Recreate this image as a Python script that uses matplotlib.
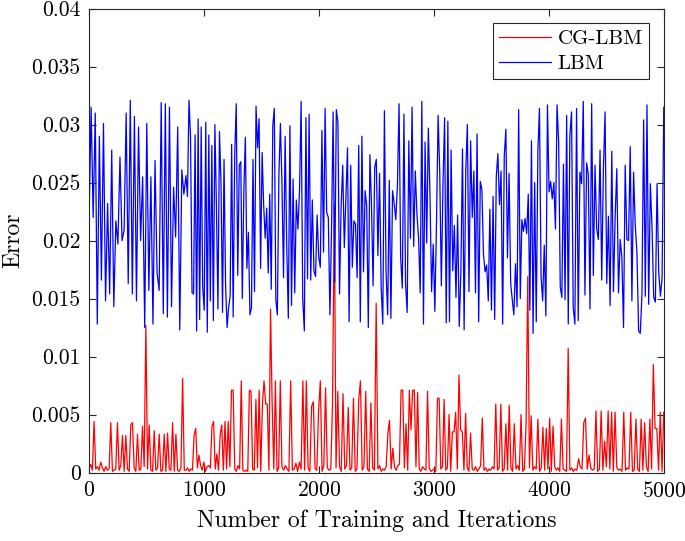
import numpy as np
import matplotlib
matplotlib.use("Agg")
from matplotlib import pyplot as plt
from matplotlib.ticker import FuncFormatter

plt.rcParams['font.family'] = 'cmr10'
plt.rcParams['mathtext.fontset'] = 'cm'
plt.rcParams['axes.formatter.use_mathtext'] = True

# iteration ranges that each block of read-off values covers
seg_edges = [0, 843, 1678, 2513, 3348, 4183, 5000]

# LBM error, in units of 1e-3, read block by block
lbm_1 = [21.6, 31.5, 22.0, 31.0, 12.8, 29.0, 16.6, 30.1, 14.8, 23.2, 15.4, 27.8, 14.3, 21.7, 19.7, 27.2,
         20.0, 20.9, 31.0, 16.3, 32.1, 15.4, 30.7, 14.8, 29.8, 20.0, 25.5, 12.5, 30.1, 15.7, 25.5, 12.8,
         26.9, 17.2, 15.7, 31.9, 13.7, 31.8, 13.4, 31.5, 14.3, 24.6, 20.3, 29.8, 12.3, 26.1, 24.0]
lbm_2 = [25.6, 23.8, 32.1, 29.0, 15.5, 15.4, 29.1, 12.2, 30.5, 13.2, 29.8, 16.0, 14.0, 30.2, 12.1, 29.1,
         14.8, 28.2, 13.1, 30.0, 23.0, 14.1, 29.4, 25.0, 13.8, 27.0, 16.2, 12.5, 14.2, 15.2, 28.3, 13.4,
         27.3, 31.8, 17.0, 26.5, 26.8, 15.0, 24.3, 28.9, 17.6, 20.7, 13.6, 14.2, 27.0, 15.6, 31.6, 28.0,
         30.5, 17.6, 27.6, 23.1, 20.2, 22.8, 17.2, 24.0, 15.8, 29.9, 31.4, 14.9, 13.6, 25.6, 30.1]
lbm_3 = [25.0, 16.8, 29.0, 19.6, 13.3, 29.9, 14.4, 25.3, 15.5, 23.5, 21.0, 24.3, 32.0, 15.0, 12.2, 30.6,
         16.7, 30.9, 16.6, 23.5, 17.4, 16.9, 22.2, 18.6, 17.7, 29.5, 19.0, 31.4, 22.4, 22.0, 13.6, 20.8,
         31.1, 16.4, 31.3, 30.2, 15.4, 22.9, 26.5, 19.4, 23.8, 28.0, 13.0, 26.5, 17.7, 21.7, 21.4, 16.8,
         28.2, 13.0, 29.0, 17.3, 24.3, 23.0, 12.5, 27.4, 23.0, 16.1, 26.3, 27.0]
lbm_4 = [18.7, 25.8, 16.0, 12.8, 31.2, 17.4, 13.6, 25.2, 13.3, 24.3, 23.2, 21.8, 24.8, 31.8, 18.5, 15.9,
         30.9, 16.3, 13.8, 28.6, 20.2, 31.5, 19.5, 26.0, 22.3, 20.2, 15.5, 32.0, 12.8, 28.5, 19.8, 29.7,
         24.0, 15.6, 19.7, 13.9, 21.3, 30.8, 26.0, 16.1, 24.8, 30.6, 12.9, 30.3, 13.0, 27.8, 17.4, 21.3,
         15.1, 22.2, 12.6, 17.2, 27.9, 12.3, 26.0, 30.0, 15.6, 28.6, 22.0]
lbm_5 = [26.0, 15.5, 29.2, 13.0, 25.1, 24.4, 18.8, 17.3, 17.9, 14.8, 22.7, 14.0, 23.8, 13.2, 25.5, 27.5,
         23.1, 26.0, 12.8, 27.3, 29.6, 18.5, 25.8, 16.3, 14.9, 13.6, 18.0, 14.3, 31.3, 15.0, 21.8, 20.8,
         21.9, 20.6, 24.0, 14.0, 28.6, 12.0, 25.0, 13.0, 27.7, 31.4, 16.9, 14.8, 19.6, 13.5, 31.7, 24.2,
         25.1, 23.6, 25.0, 21.0, 31.7, 28.5, 16.0, 15.1, 26.6, 14.9, 30.8, 12.8]
lbm_6 = [29.0, 31.1, 14.2, 12.8, 31.4, 13.1, 25.9, 24.9, 32.0, 15.3, 26.7, 25.7, 14.1, 31.8, 17.0, 26.5,
         21.0, 20.1, 27.8, 16.6, 26.1, 31.1, 16.3, 22.1, 14.4, 27.7, 15.6, 22.0, 26.2, 15.5, 20.1, 18.6,
         12.5, 26.5, 20.1, 20.0, 28.1, 14.8, 25.9, 21.3, 19.0, 12.2, 12.0, 15.4, 30.4, 15.2, 31.7, 14.5,
         24.9, 21.1, 15.1, 14.7, 24.9, 17.3, 15.2, 16.8, 31.5]

# CG-LBM error, in units of 1e-3
cg_1 = [0.3, 0.7, 0.2, 4.4, 0.3, 0.5, 0.2, 0.9, 0.4, 0.1, 0.5, 0.2, 0.3, 4.3, 0.1, 0.2, 0.3, 4.3, 0.2, 0.6,
        3.2, 0.1, 3.2, 0.3, 0.1, 4.1, 4.3, 0.4, 0.1, 3.3, 0.2, 0.3, 4.0, 0.5, 12.7, 0.3, 4.1, 0.2, 0.1, 3.6,
        0.2, 0.4, 3.3, 0.1, 0.2, 3.3, 0.1, 3.4, 0.3, 0.2, 4.3, 0.1, 3.3, 0.2, 0.1, 0.4, 8.1, 0.2]
cg_2 = [0.2, 0.4, 0.1, 0.3, 0.2, 3.2, 3.8, 0.4, 1.5, 0.6, 0.2, 0.9, 0.1, 0.5, 0.6, 0.4, 4.0, 4.4, 0.3, 1.6,
        0.2, 3.2, 4.1, 0.2, 4.4, 0.3, 4.4, 0.5, 7.1, 7.1, 0.3, 0.1, 0.6, 0.3, 7.9, 0.2, 0.1, 0.2, 0.1, 7.1,
        7.0, 0.3, 0.2, 6.3, 0.4, 7.1, 0.1, 5.9, 7.9, 5.9, 5.9, 0.2, 14.1, 5.8, 0.3, 7.9, 0.1, 0.4, 7.9]
cg_3 = [0.5, 0.2, 0.6, 0.3, 0.1, 7.9, 0.2, 0.3, 0.8, 0.1, 0.9, 0.3, 7.9, 0.2, 7.9, 0.4, 0.1, 5.7, 6.1, 0.3,
        0.2, 5.3, 7.9, 0.1, 0.6, 7.3, 0.4, 0.2, 0.3, 6.0, 23.0, 0.4, 7.0, 0.5, 0.1, 6.8, 0.3, 0.6, 5.6, 0.2,
        0.4, 6.4, 0.1, 0.3, 6.3, 7.9, 0.2, 0.5, 7.0, 0.3, 0.1, 6.0, 0.4, 0.2, 14.6]
cg_4 = [0.3, 0.6, 0.1, 0.3, 0.2, 0.5, 3.3, 4.5, 0.3, 2.1, 0.5, 0.2, 0.6, 0.7, 7.1, 7.1, 0.4, 4.2, 0.2, 7.1,
        3.7, 7.1, 7.1, 0.5, 6.9, 0.3, 0.1, 0.5, 0.3, 0.2, 7.0, 0.4, 0.1, 0.2, 0.3, 0.1, 6.4, 6.4, 0.3, 0.5,
        6.3, 0.2, 0.4, 5.0, 0.1, 3.5, 3.5, 5.2, 0.3, 8.4, 3.7, 3.5, 0.2, 5.1, 0.4, 0.1, 3.4, 0.3]
cg_5 = [0.2, 0.5, 0.1, 0.3, 0.6, 4.7, 0.2, 0.4, 0.1, 0.3, 0.2, 0.5, 0.3, 5.9, 0.2, 0.4, 5.9, 0.1, 0.3, 4.2,
        0.2, 5.8, 0.4, 0.1, 4.2, 0.3, 0.6, 0.2, 5.0, 0.1, 0.3, 4.3, 16.9, 0.4, 4.9, 0.2, 0.5, 0.3, 4.6, 0.1,
        0.4, 3.9, 0.2, 3.8, 0.3, 4.7, 0.1, 4.0, 0.5, 0.2, 0.4, 0.1, 4.6, 0.3, 0.2, 0.1, 10.7]
cg_6 = [0.2, 0.4, 0.1, 0.3, 0.2, 1.2, 0.5, 0.3, 4.3, 4.7, 0.3, 1.5, 0.4, 0.2, 0.3, 5.3, 0.1, 0.3, 5.3, 0.2,
        2.7, 0.5, 5.3, 0.3, 5.2, 0.1, 5.2, 0.4, 0.2, 0.3, 0.1, 5.2, 0.2, 0.4, 0.3, 5.2, 0.1, 0.2, 4.6, 0.3,
        0.1, 4.6, 0.2, 4.3, 0.5, 0.1, 4.6, 0.3, 9.3, 3.8, 3.8, 0.2, 5.2, 0.1, 5.2]

lbm_segs = [lbm_1, lbm_2, lbm_3, lbm_4, lbm_5, lbm_6]
cg_segs = [cg_1, cg_2, cg_3, cg_4, cg_5, cg_6]


def spread(segs):
    xs = []
    for k, s in enumerate(segs):
        last = k == len(segs) - 1
        xs.append(np.linspace(seg_edges[k], seg_edges[k + 1], len(s), endpoint=last))
    return np.concatenate(xs), np.concatenate(segs) * 1e-3


x_cg, y_cg = spread(cg_segs)
x_lbm, y_lbm = spread(lbm_segs)

fig = plt.figure(figsize=(6.85, 5.41), dpi=100)
ax = fig.add_axes([0.130, 0.1266, 0.839, 0.8574])

ax.plot(x_cg, y_cg, color=(1, 0, 0), lw=0.9, label="CG-LBM")
ax.plot(x_lbm, y_lbm, color=(0, 0, 1), lw=0.9, label="LBM")

ax.set_xlim(0, 5000)
ax.set_ylim(0, 0.04)
ax.set_xticks(np.arange(0, 5001, 1000))
ax.set_yticks(np.arange(0, 0.0401, 0.005))
ax.yaxis.set_major_formatter(FuncFormatter(lambda v, p: "%g" % round(v, 4)))
ax.tick_params(direction="in", top=True, right=True, length=5, width=0.8,
               labelsize=15.5, colors="0.15", labelcolor="black", pad=6)
for s in ax.spines.values():
    s.set_color("0.15")
    s.set_linewidth(0.8)

ax.set_xlabel("Number of Training and Iterations", fontsize=17, labelpad=6)
ax.set_ylabel("Error", fontsize=17, labelpad=5)

leg = ax.legend(loc="upper right", fontsize=15, fancybox=False, edgecolor="0.15",
                framealpha=1, handlelength=2.5, handletextpad=0.3, labelspacing=0.3,
                borderaxespad=0.7, borderpad=0.3)
leg.get_frame().set_linewidth(0.8)

fig.savefig("out.png", dpi=100)
